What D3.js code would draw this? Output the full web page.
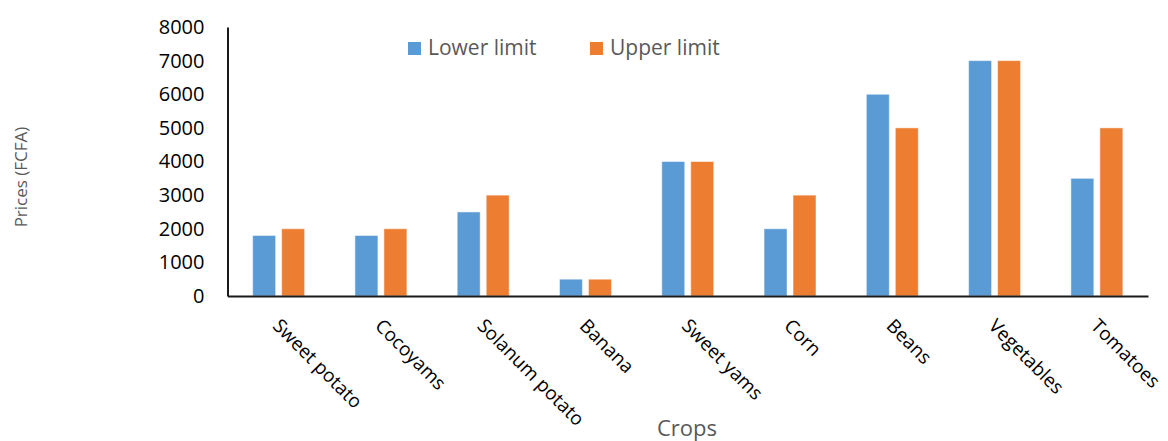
<!DOCTYPE html>
<html>
<head>
<meta charset="utf-8">
<script src="https://cdn.jsdelivr.net/npm/d3@7"></script>
<style>
  html, body { margin: 0; padding: 0; background: #fff; }
  svg { display: block; font-family: "Open Sans", "Liberation Sans", sans-serif; }
</style>
</head>
<body>
<svg id="chart" width="1168" height="441"></svg>
<script>
// Crop price ranges (FCFA)
const crops = ["Sweet potato", "Cocoyams", "Solanum potato", "Banana", "Sweet yams", "Corn", "Beans", "Vegetables", "Tomatoes"];
const seriesNames = ["Lower limit", "Upper limit"];
const lowerLimit = [1800, 1800, 2500, 500, 4000, 2000, 6000, 7000, 3500];
const upperLimit = [2000, 2000, 3000, 500, 4000, 3000, 5000, 7000, 5000];
const yTicks = [0, 1000, 2000, 3000, 4000, 5000, 6000, 7000, 8000];
const colors = ["#5B9BD5", "#ED7D31"];

const svg = d3.select("#chart");

const plot = { left: 227.5, right: 1148, top: 27, bottom: 296 };

const x = d3.scaleBand().domain(crops).range([plot.left, plot.right]).padding(0);
const xs = d3.scaleBand().domain(seriesNames).range([0, x.bandwidth()])
  .paddingInner(0.207).paddingOuter(0.868);
const y = d3.scaleLinear().domain([0, 8000]).range([plot.bottom, plot.top]);

const rows = crops.map((c, i) => ({ crop: c, values: [lowerLimit[i], upperLimit[i]] }));

// Bars
const groups = svg.append("g").selectAll("g")
  .data(rows).join("g")
  .attr("transform", d => `translate(${x(d.crop)},0)`);

groups.selectAll("rect")
  .data(d => d.values.map((v, k) => ({ series: seriesNames[k], value: v, k })))
  .join("rect")
  .attr("x", d => xs(d.series))
  .attr("width", xs.bandwidth())
  .attr("y", d => y(d.value))
  .attr("height", d => y(0) - y(d.value))
  .attr("fill", d => colors[d.k])
  .attr("stroke", "rgba(255,255,255,0.5)")
  .attr("stroke-width", 1);

// Y axis
const yAxis = d3.axisLeft(y).tickValues(yTicks).tickSize(0).tickPadding(23).tickFormat(d3.format("d"));
const gy = svg.append("g").attr("transform", `translate(${plot.left},0)`).call(yAxis);
gy.select(".domain").attr("stroke", "#1a1a1a").attr("stroke-width", 2);
gy.selectAll("text").attr("font-size", 20).attr("fill", "#000")
  .attr("font-family", "'Open Sans', sans-serif");

// X axis with labels slanted 45 degrees
const xAxis = d3.axisBottom(x).tickSize(0).tickFormat(d => d);
const gx = svg.append("g").attr("transform", `translate(0,${plot.bottom})`).call(xAxis);
gx.select(".domain").attr("stroke", "#1a1a1a").attr("stroke-width", 2);
gx.selectAll(".tick text")
  .attr("font-size", 19).attr("fill", "#000")
  .attr("font-family", "'Open Sans', sans-serif")
  .attr("text-anchor", "start")
  .attr("dy", null).attr("y", null)
  .attr("transform", "translate(-7,31) rotate(45)");

// Axis titles
svg.append("text")
  .attr("transform", "translate(27,177) rotate(-90)")
  .attr("text-anchor", "middle")
  .attr("font-size", 17).attr("fill", "#595959")
  .text("Prices (FCFA)");

svg.append("text")
  .attr("x", 687).attr("y", 436)
  .attr("text-anchor", "middle")
  .attr("font-size", 22).attr("fill", "#595959")
  .text("Crops");

// Legend
const legendX = [408, 590];
const legend = svg.append("g").selectAll("g")
  .data(seriesNames).join("g")
  .attr("transform", (d, i) => `translate(${legendX[i]},42)`);
legend.append("rect").attr("width", 13).attr("height", 13)
  .attr("fill", (d, i) => colors[i]);
legend.append("text").attr("x", 20).attr("y", 12.5)
  .attr("font-size", 21).attr("fill", "#595959")
  .text(d => d);
</script>
</body>
</html>
